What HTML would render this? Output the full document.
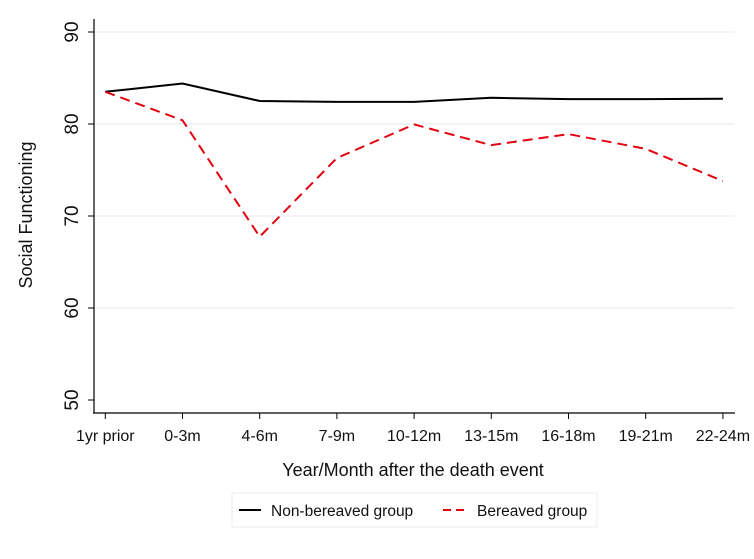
<!DOCTYPE html>
<html><head><meta charset="utf-8"><style>
body{margin:0;background:#fff;}
svg text{font-family:"Liberation Sans",Arial,sans-serif;fill:#111;}
</style></head><body>
<svg width="754" height="554" viewBox="0 0 754 554">
<rect width="754" height="554" fill="#fff"/>
<g id="grid"></g>
<g id="axes"></g>
<g id="series"></g>
<text x="32" y="215" font-size="18" text-anchor="middle" transform="rotate(-90 32 215)">Social Functioning</text>
<text x="413" y="476" font-size="18" text-anchor="middle">Year/Month after the death event</text>
<g>
<rect x="232" y="493" width="365" height="34" fill="#fff" stroke="#e8ecef"/>
<line x1="239" y1="510" x2="261" y2="510" stroke="#000" stroke-width="2"/>
<text x="271" y="516" font-size="15.5">Non-bereaved group</text>
<line x1="443" y1="510" x2="466" y2="510" stroke="#e3000f" stroke-width="2" stroke-dasharray="8,5"/>
<text x="477" y="516" font-size="15.5">Bereaved group</text>
</g>
</svg>
<script>
const categories=["1yr prior","0-3m","4-6m","7-9m","10-12m","13-15m","16-18m","19-21m","22-24m"];
const nonBereaved=[83.5,84.4,82.5,82.4,82.4,82.85,82.7,82.7,82.75];
const bereaved=[83.5,80.4,67.75,76.3,79.95,77.7,78.9,77.3,73.8];
const yTicks=[50,60,70,80,90];
const NS="http://www.w3.org/2000/svg";
function xs(i){return 105.3+i*77.2;}
function ys(v){return 32+(90-v)*9.2;}
function mk(t,a,p){const e=document.createElementNS(NS,t);for(const k in a)e.setAttribute(k,a[k]);p.appendChild(e);return e;}
const grid=document.getElementById('grid'),axes=document.getElementById('axes'),series=document.getElementById('series');
yTicks.forEach(v=>{
  if(v>50){const g=mk('line',{x1:94,x2:735,y1:ys(v),y2:ys(v),stroke:'#e6eef2','stroke-width':1.2},grid);
  
  }
  const t=mk('line',{x1:88,x2:94,y1:ys(v),y2:ys(v),stroke:'#000'},axes);
  
  
  const y=ys(v);
  const l=mk('text',{x:78,y:y,'font-size':19,'text-anchor':'middle',transform:'rotate(-90 78 '+y+')'},axes);
  l.textContent=v;
  
  
});
const ya=mk('line',{x1:94,x2:94,y1:19,y2:413,stroke:'#000','stroke-width':1.2},axes);


const xa=mk('line',{x1:93,x2:735,y1:413,y2:413,stroke:'#000','stroke-width':1.2},axes);


categories.forEach((c,i)=>{
  const t=mk('line',{x1:xs(i),x2:xs(i),y1:413,y2:419,stroke:'#000'},axes);
  
  
  const l=mk('text',{x:xs(i),y:441,'font-size':16,'text-anchor':'middle'},axes);
  l.textContent=c;
  
  
});
const p1=mk('polyline',{points:nonBereaved.map((v,i)=>xs(i)+','+ys(v)).join(' '),fill:'none',stroke:'#000','stroke-width':2},series);


const p2=mk('polyline',{points:bereaved.map((v,i)=>xs(i)+','+ys(v)).join(' '),fill:'none',stroke:'#e3000f','stroke-width':2,'stroke-dasharray':'10,6'},series);


</script>
</body></html>
